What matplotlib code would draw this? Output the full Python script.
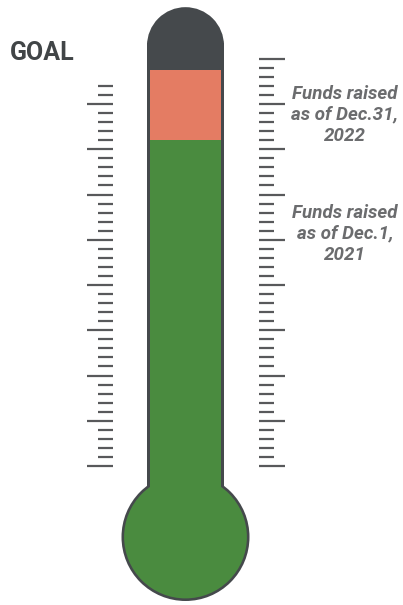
import matplotlib
matplotlib.use("Agg")
import matplotlib.pyplot as plt
from matplotlib.patches import Rectangle, Circle, Wedge
import numpy as np

# levels in tick units (bottom tick = 0, one tick mark = 1 unit)
level_names = ["Dec.1, 2021", "Dec.31, 2022", "Goal"]
level_values = [36.0, 43.8, 50.7]
level_colors = ["#4a8b3f", "#e47c63", "#45494c"]

left_ticks = np.arange(0, 43)
right_ticks = np.arange(0, 46)

goal_label = "GOAL"
raised_labels = [["Funds raised", "as of Dec.1,", "2021"],
                 ["Funds raised", "as of Dec.31,", "2022"]]
raised_label_y = [27.4, 40.55]

U = 9.05  # pixels per tick unit
tube_r = 38.5 / U
inset = 2.6 / U
bulb_y = -71 / U
bulb_r = 64 / U
outline = "#45494c"
tick_color = "#58595b"

fig = plt.figure(figsize=(4.03, 6.05), dpi=100)
ax = fig.add_axes([0, 0, 1, 1])
ax.set_xlim(-185.5 / U, 217.5 / U)
ax.set_ylim(-139 / U, 466 / U)
ax.set_aspect("equal")
ax.axis("off")

# silhouette (dark)
top = level_values[2]
cap_y = top - tube_r
ax.add_patch(Rectangle((-tube_r, bulb_y), 2 * tube_r, cap_y - bulb_y + 0.3, color=outline, lw=0))
ax.add_patch(Wedge((0, cap_y), tube_r, 0, 180, color=outline, lw=0))
ax.add_patch(Circle((0, bulb_y), bulb_r, color=outline, lw=0))

# green fill (2021) and orange (2022)
w = tube_r - inset
ax.add_patch(Circle((0, bulb_y), bulb_r - inset, color=level_colors[0], lw=0))
ax.add_patch(Rectangle((-w, bulb_y), 2 * w, level_values[0] - bulb_y, color=level_colors[0], lw=0))
ax.add_patch(Rectangle((-w, level_values[0]), 2 * w, level_values[1] - level_values[0],
                       color=level_colors[1], lw=0))

# tick marks
lx = (113 - 185.5) / U
rx = (259 - 185.5) / U
long_len, short_len = 26 / U, 15 / U
llen = np.where(left_ticks % 5 == 0, long_len, short_len)
rlen = np.where(right_ticks % 5 == 0, long_len, short_len)
ax.hlines(left_ticks, lx - llen, lx, color=tick_color, lw=1.6)
ax.hlines(right_ticks, rx, rx + rlen, color=tick_color, lw=1.6)

ax.text(-175.5 / U, 44.86, goal_label, fontsize=18, fontweight="bold", family="Roboto",
        color="#414547", ha="left", va="baseline")

cx = (345 - 185.5) / U
for lines, y0 in zip(raised_labels, raised_label_y):
    for i, s in enumerate(lines):
        ax.text(cx, y0 - i * 2.3, s, fontsize=13.5, fontweight="bold", fontstyle="italic",
                family="Roboto", color="#6b6c6e", ha="center", va="baseline")

fig.savefig("out.png", dpi=100)
